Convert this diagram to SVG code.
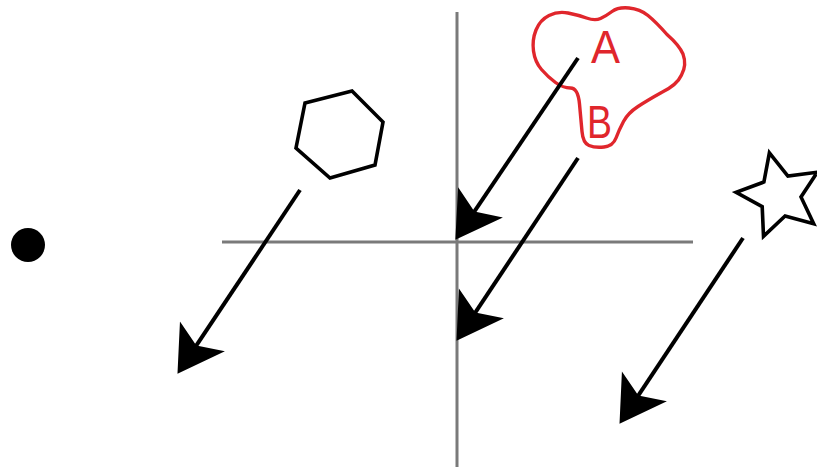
<svg xmlns="http://www.w3.org/2000/svg" width="817" height="471" viewBox="0 0 817 471">
<style>
.axis{stroke:#7a7a7a;stroke-width:3;fill:none}
.arrow{stroke:#000;stroke-width:4;fill:none;marker-end:url(#head)}
.shape{stroke:#000;stroke-width:3.6;fill:#fff;stroke-linejoin:miter}
.cloud{stroke:#e0262c;stroke-width:3.4;fill:#fff}
.lbl{font-family:"Liberation Sans",Arial,sans-serif;font-size:46px;fill:#e0262c}
</style>
<defs>
<marker id="head" markerUnits="userSpaceOnUse" viewBox="-22 -30 50 60" markerWidth="50" markerHeight="60" refX="0" refY="0" orient="auto">
<path d="M26,0 L-19,-27 L-8,0 L-19,27 Z" fill="#000"/>
</marker>
</defs>
<rect width="817" height="471" fill="#fff"/>
<g id="axes">
<line class="axis" x1="457" y1="12" x2="457" y2="467"/>
<line class="axis" x1="222" y1="242" x2="693" y2="242"/>
</g>
<g id="dot"><circle cx="28" cy="245" r="17" fill="#000"/></g>
<g id="hexagon"><polygon class="shape" points="305,103 352,91 383,122 375,165 330,178 296,148"/></g>
<g id="star"><polygon class="shape" points="769.4,152.8 787.9,176 817.3,172.2 801,197 813.7,223.8 785.1,215.9 763.5,236.3 762.2,206.6 736.1,192.4 763.9,182"/></g>
<g id="cloud">
<path class="cloud" d="M555.5,82.5 Q563,88 570.5,88 Q578,88 579.5,104 Q581,120 582,131.5 Q583,143 589,145.5 Q595,148 604,147 Q613,146 616,138 Q619,130 623.5,121.5 Q628,113 638,106.5 Q648,100 661.5,92.5 Q677,85 681.5,75 Q687,65 683,54 Q679,45 667,34.5 Q656,22 648,15.5 Q640,9 629,8 Q618,7 612,11.5 Q606,16 600.5,18.5 Q595,21 586.5,18 Q578,15 568,13 Q558,11 549,15.5 Q540,20 536,30 Q532,40 533.5,51 Q535,62 541.5,69.5 Q548,77 555.5,82.5 Z"/>
<text class="lbl" x="591" y="63" textLength="29" lengthAdjust="spacingAndGlyphs">A</text>
<text class="lbl" x="587" y="138" textLength="25" lengthAdjust="spacingAndGlyphs">B</text>
</g>
<g id="connectors">
<line class="arrow" x1="300" y1="190" x2="191.9" y2="352.2"/>
<line class="arrow" x1="578" y1="58" x2="469.9" y2="218.2"/>
<line class="arrow" x1="578" y1="158" x2="470.9" y2="319.2"/>
<line class="arrow" x1="743" y1="238" x2="633.9" y2="402.2"/>
</g>
</svg>
